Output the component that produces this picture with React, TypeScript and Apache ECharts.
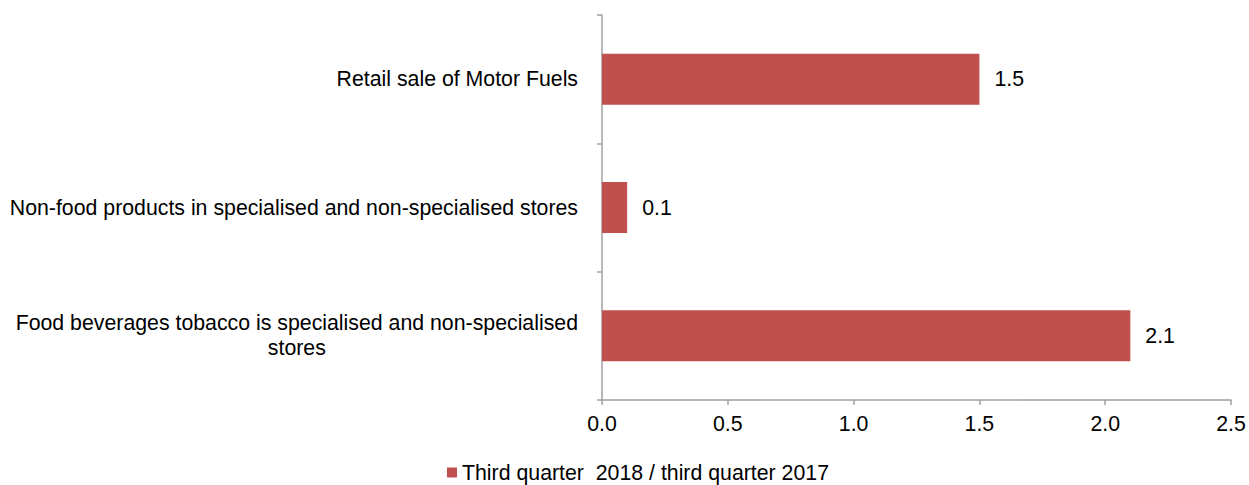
import React, { useEffect, useRef } from "react";
import * as echarts from "echarts";

const categories = [
  "Food beverages tobacco is specialised and non-specialised\nstores",
  "Non-food products in specialised and non-specialised stores",
  "Retail sale of Motor Fuels",
];
const values = [2.1, 0.1, 1.5];
const seriesName = "Third quarter  2018 / third quarter 2017";
const xTicks = [0, 0.5, 1.0, 1.5, 2.0, 2.5];

export default function App() {
  const ref = useRef<HTMLDivElement>(null);
  useEffect(() => {
    if (!ref.current) return;
    const chart = echarts.init(ref.current, null, { renderer: "svg" });
    const font = "'Liberation Sans', Arial, sans-serif";
    const fs = 21.3;
    chart.setOption({
      animation: false,
      textStyle: { fontFamily: font },
      grid: { left: 602, right: 18, top: 15, bottom: 85, containLabel: false },
      legend: {
        left: 447,
        top: 462,
        padding: 0,
        itemWidth: 10,
        itemHeight: 10,
        itemGap: 10,
        icon: "rect",
        textStyle: { fontSize: fs, lineHeight: 16, color: "#000", fontFamily: font },
        data: [seriesName],
      },
      xAxis: {
        type: "value",
        min: xTicks[0],
        max: xTicks[xTicks.length - 1],
        interval: 0.5,
        splitLine: { show: false },
        axisLine: { show: true, lineStyle: { color: "#a0a0a0", width: 1.5 } },
        axisTick: { show: true, length: 5, lineStyle: { color: "#a0a0a0", width: 1.5 } },
        axisLabel: {
          fontSize: fs,
          color: "#000",
          margin: 13,
          fontFamily: font,
          formatter: (v: number) => v.toFixed(1),
        },
      },
      yAxis: {
        type: "category",
        data: categories,
        axisLine: { show: true, lineStyle: { color: "#a0a0a0", width: 1.5 } },
        axisTick: { show: true, length: 5, lineStyle: { color: "#a0a0a0", width: 1.5 } },
        axisLabel: {
          fontSize: fs,
          color: "#000",
          margin: 24,
          fontFamily: font,
          formatter: (v: string) =>
            v
              .split("\n")
              .map((s) => `{a|${s}}`)
              .join("\n"),
          rich: {
            a: { fontSize: fs, color: "#000", align: "center", fontFamily: font, lineHeight: 25 },
          },
        },
      },
      series: [
        {
          name: seriesName,
          type: "bar",
          data: values,
          barWidth: 51,
          itemStyle: { color: "#C0504D" },
          label: {
            show: true,
            position: "right",
            distance: 15,
            fontSize: fs,
            color: "#000",
            fontFamily: font,
            formatter: (p: any) => Number(p.value).toFixed(1),
          },
        },
      ],
    });
    return () => chart.dispose();
  }, []);
  return (
    <div
      ref={ref}
      style={{ position: "fixed", left: 0, top: 0, width: 1249, height: 485, background: "#fff" }}
    />
  );
}
